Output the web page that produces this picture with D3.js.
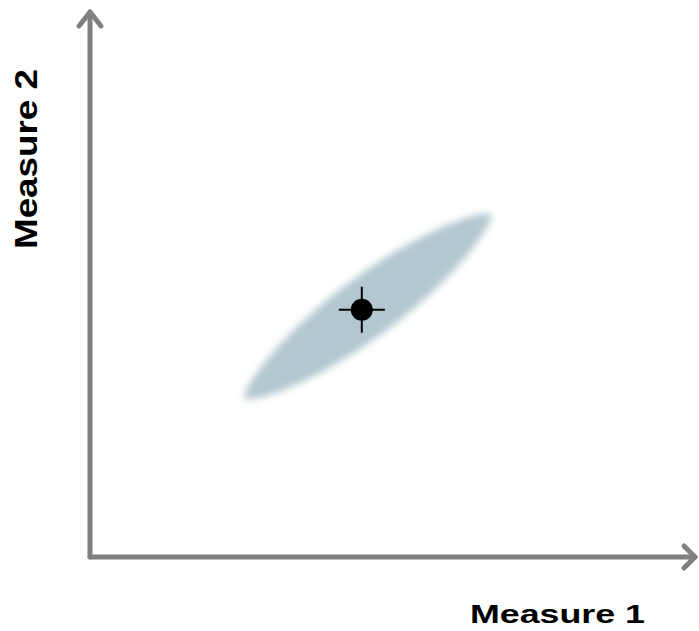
<!DOCTYPE html>
<html>
<head>
<meta charset="utf-8">
<script src="https://cdn.jsdelivr.net/npm/d3@7/dist/d3.min.js"></script>
<style>
  html, body { margin: 0; padding: 0; background: #ffffff; }
  svg { display: block; }
</style>
</head>
<body>
<div id="chart"></div>
<script>
// ---- data (in abstract measure units, 0..100) ----
const axisLabels = ["Measure 1", "Measure 2"];
const pointCenter = [45.3, 45.8];           // [measure1, measure2]
const ellipseEnds = [[25.3, 29.0], [67.3, 63.8]]; // major-axis tips
const ellipseSpread = [7.0];                 // half-width in measure-2 units

const W = 699, H = 631;
const svg = d3.select("#chart").append("svg")
  .attr("width", W).attr("height", H);

const x = d3.scaleLinear().domain([0, 100]).range([90, 690]);
const y = d3.scaleLinear().domain([0, 100]).range([557, 17]);

const defs = svg.append("defs");
defs.append("filter").attr("id", "blur")
  .attr("x", "-20%").attr("y", "-20%").attr("width", "140%").attr("height", "140%")
  .append("feGaussianBlur").attr("stdDeviation", 3.5);

// spindle-shaped confidence region
const p1 = [x(ellipseEnds[0][0]), y(ellipseEnds[0][1])];
const p2 = [x(ellipseEnds[1][0]), y(ellipseEnds[1][1])];
const cx = (p1[0] + p2[0]) / 2, cy = (p1[1] + p2[1]) / 2;
const len = Math.hypot(p2[0] - p1[0], p2[1] - p1[1]);
const ang = Math.atan2(p2[1] - p1[1], p2[0] - p1[0]);
const halfW = Math.abs((y(0) - y(ellipseSpread[0])) * Math.cos(ang));
const a = len / 2 - 3;
const ts = d3.range(-1, 1.0001, 0.02);
const upper = ts.map(t => [t * a, -halfW * Math.pow(1 - t * t, 0.7)]);
const lower = ts.slice().reverse().map(t => [t * a, halfW * Math.pow(1 - t * t, 0.7)]);
svg.append("path")
  .attr("d", d3.line().curve(d3.curveLinearClosed)(upper.concat(lower)))
  .attr("transform", `translate(${cx},${cy}) rotate(${ang * 180 / Math.PI})`)
  .attr("fill", "#b2c7cf")
  .attr("filter", "url(#blur)");

// axes
const axisColor = "#808080";
const g = svg.append("g").attr("stroke", axisColor).attr("stroke-width", 5)
  .attr("fill", "none").attr("stroke-linecap", "round").attr("stroke-linejoin", "round");
g.append("line").attr("x1", x(0)).attr("y1", y(0)).attr("x2", x(0)).attr("y2", 12);
g.append("line").attr("x1", x(0)).attr("y1", y(0)).attr("x2", 695).attr("y2", y(0));
g.append("polyline").attr("points", [[x(0) - 11, 26], [x(0), 12], [x(0) + 11, 26]].join(" "));
g.append("polyline").attr("points", [[684, y(0) - 11], [695, y(0)], [684, y(0) + 11]].join(" "));

// point with crosshair
const px = x(pointCenter[0]), py = y(pointCenter[1]);
const ch = svg.append("g").attr("stroke", "#000").attr("stroke-width", 2);
ch.append("line").attr("x1", px - 23).attr("x2", px + 23).attr("y1", py).attr("y2", py);
ch.append("line").attr("x1", px).attr("x2", px).attr("y1", py - 23).attr("y2", py + 23);
svg.append("circle").attr("cx", px).attr("cy", py).attr("r", 11).attr("fill", "#000");

// labels
svg.append("text")
  .attr("x", 470).attr("y", 623)
  .attr("font-family", "'Liberation Sans', Arial, sans-serif")
  .attr("font-weight", "bold").attr("font-size", 26)
  .attr("textLength", 175).attr("lengthAdjust", "spacingAndGlyphs")
  .attr("fill", "#000")
  .text(axisLabels[0]);

svg.append("text")
  .attr("transform", "translate(37,249) rotate(-90)")
  .attr("x", 0).attr("y", 0)
  .attr("font-family", "'Liberation Sans', Arial, sans-serif")
  .attr("font-weight", "bold").attr("font-size", 32)
  .attr("textLength", 180).attr("lengthAdjust", "spacingAndGlyphs")
  .attr("fill", "#000")
  .text(axisLabels[1]);
</script>
</body>
</html>
